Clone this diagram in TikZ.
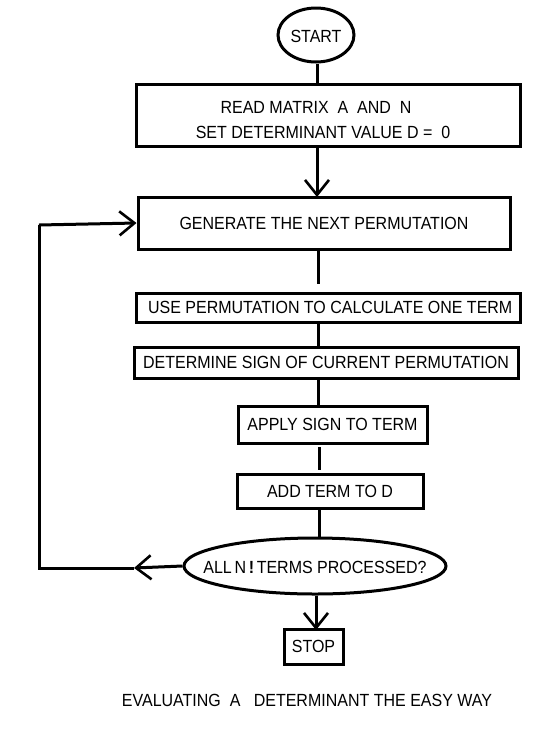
\documentclass[tikz,border=0pt]{standalone}
\usepackage{fontspec}
\setmainfont{Liberation Sans}
\usetikzlibrary{shapes.geometric,arrows.meta}
\newcommand{\mytxt}[1]{\scalebox{1}[1.1]{#1}}
\begin{document}
\begin{tikzpicture}[x=1pt,y=-1pt,
  every node/.style={font=\fontsize{16}{18}\selectfont, inner sep=0pt},
  ln/.style={line width=3pt},
  arr/.style={line width=3pt, -{Straight Barb[length=15pt,width=24pt,line width=2.6pt]}}]
\useasboundingbox (0,0) rectangle (559,729);
\node[draw, ellipse, line width=3pt, minimum width=76pt, minimum height=54pt] (start) at (316,35) {};
\node at (316,36) {\mytxt{START}};
\node[draw, line width=3pt, minimum width=384pt, minimum height=62pt] (read) at (328,115.5) {};
\node at (316,107) {\mytxt{READ MATRIX\ \ A\ \ AND\ \ N}};
\node at (323,132) {\mytxt{SET DETERMINANT VALUE D =\ \ 0}};
\node[draw, line width=3pt, minimum width=372pt, minimum height=52pt] (gen) at (324,223) {\mytxt{GENERATE THE NEXT PERMUTATION}};
\node[draw, line width=3pt, minimum width=384pt, minimum height=29pt] (use) at (328,307.5) {\mytxt{\ USE PERMUTATION TO CALCULATE ONE TERM}};
\node[draw, line width=3pt, minimum width=384pt, minimum height=31pt] (det) at (326,362.5) {\mytxt{DETERMINE SIGN OF CURRENT PERMUTATION}};
\node[draw, line width=3pt, minimum width=189pt, minimum height=37pt] (apply) at (332.5,424.5) {\mytxt{APPLY SIGN TO TERM}};
\node[draw, line width=3pt, minimum width=186pt, minimum height=34pt] (add) at (330,491) {\mytxt{ADD TERM TO D}\hspace{40pt}};
\node[draw, ellipse, line width=3pt, minimum width=262pt, minimum height=56pt] (dec) at (315,566) {};
\node at (315,567) {\mytxt{ALL\,N\,{\bfseries!}\,TERMS PROCESSED?}};
\node[draw, line width=3pt, minimum width=59pt, minimum height=35pt] (stop) at (313.5,646.5) {\mytxt{STOP}};
\node (title) at (307,700) {\mytxt{EVALUATING\ \ A\ \ \ DETERMINANT THE EASY WAY}};
\coordinate (lb) at (39,568);
\coordinate (lt) at (39,225);
\coordinate (la) at (134,568);
\draw[ln] (start.south -| 317,0) -- (317,84.5);
\draw[arr] (317,146.5) -- (317,197);
\draw[ln] (318,250) -- (318,284);
\draw[ln] (318,323) -- (318,347);
\draw[ln] (318,378) -- (318,406);
\draw[ln] (319,447) -- (319,470);
\draw[ln] (319,508) -- (319,538);
\draw[arr] (dec.south -| 316,0) -- (316,630);
\draw[arr] (dec.west) -- (la);
\draw[ln] (la) -- (lb) -- (lt);
\draw[arr] (lt) -- (gen.west);
\end{tikzpicture}
\end{document}
